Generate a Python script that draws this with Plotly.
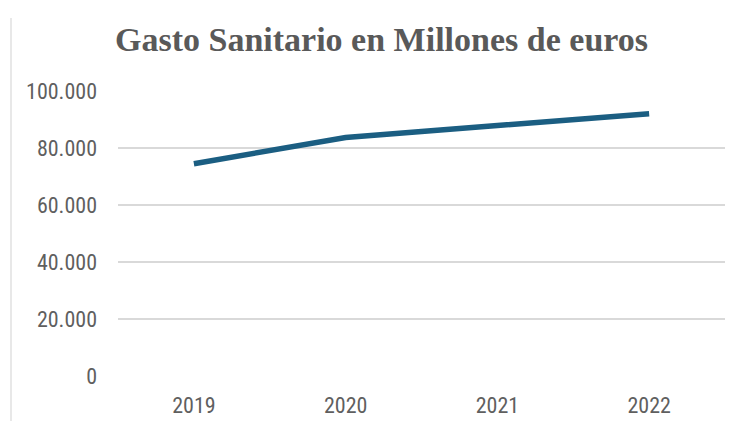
import plotly.graph_objects as go

# Gasto sanitario (millones de euros)
years = ["2019", "2020", "2021", "2022"]
gasto = [74500, 83700, 87900, 92000]

y_ticks = [0, 20000, 40000, 60000, 80000, 100000]
y_tick_labels = ["0", "20.000", "40.000", "60.000", "80.000", "100.000"]

W, H = 737, 421
L, R, T, B = 118, 12, 91, 45

fig = go.Figure(
    go.Scatter(
        x=years,
        y=gasto,
        mode="lines",
        line=dict(color="#1b5e82", width=5.5),
        hoverinfo="skip",
    )
)

label_font = dict(family="Liberation Sans Narrow, Arial Narrow, Roboto Condensed, sans-serif",
                  size=22, color="#5f5f5f")

fig.update_layout(
    width=W,
    height=H,
    margin=dict(l=L, r=R, t=T, b=B, pad=0, autoexpand=False),
    paper_bgcolor="white",
    plot_bgcolor="white",
    showlegend=False,
    title=dict(
        text="<b>Gasto Sanitario en Millones de euros</b>",
        font=dict(family="Liberation Serif, Times New Roman, serif", size=34, color="#595959"),
        x=381.5 / W,
        xanchor="center",
        y=1 - 39 / H,
        yanchor="middle",
        yref="container",
    ),
    xaxis=dict(
        type="category",
        range=[-0.5, 3.5],
        showgrid=False,
        zeroline=False,
        showline=False,
        ticks="",
        tickfont=label_font,
        ticklabelstandoff=14,
        automargin=False,
    ),
    yaxis=dict(
        range=[0, 100000],
        tickvals=y_ticks,
        ticktext=y_tick_labels,
        showgrid=True,
        gridcolor="#d9d9d9",
        gridwidth=1.5,
        zeroline=False,
        showline=False,
        ticks="",
        tickfont=label_font,
        ticklabelstandoff=20,
        automargin=False,
    ),
)

# thin frame line on the left edge of the chart area
plot_w = W - L - R
plot_h = H - T - B
fig.add_shape(
    type="line",
    xref="paper",
    yref="paper",
    x0=(11 - L) / plot_w,
    x1=(11 - L) / plot_w,
    y0=(H - B - 18) / plot_h,
    y1=-B / plot_h,
    line=dict(color="#d9d9d9", width=1.2),
    layer="below",
)

fig.write_html("out.html")
